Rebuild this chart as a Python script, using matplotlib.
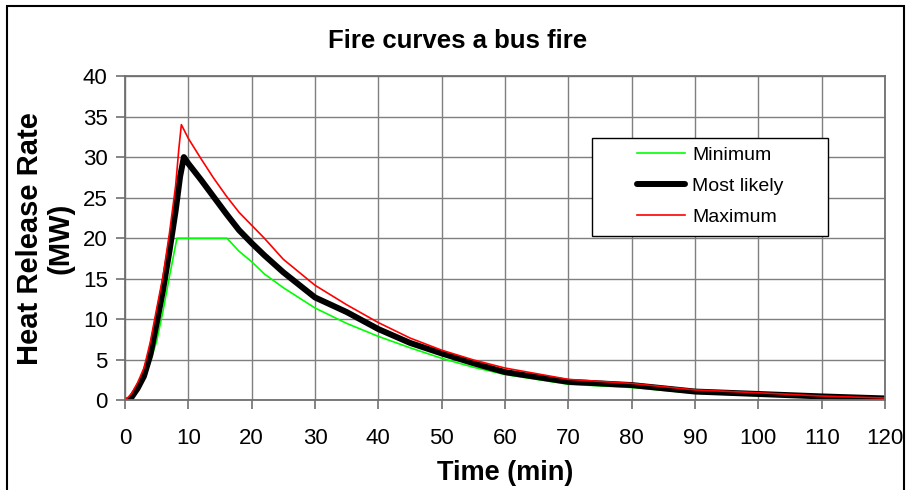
"""Fire curves for a bus fire: minimum / most likely / maximum heat release rate."""

import matplotlib

matplotlib.use("Agg")
import matplotlib.pyplot as plt
from matplotlib.patches import Rectangle

plt.rcParams["font.family"] = ["Liberation Sans", "DejaVu Sans"]

# values (time in min, HRR in MW)
t_min = [0, 1, 2, 3, 4, 5, 6, 7, 8.2, 16.1, 18, 20, 22, 25, 30, 35, 40, 45, 50,
         55, 60, 65, 70, 80, 90, 100, 110, 120]
hrr_min = [0, 0.3, 1.2, 2.8, 4.8, 7.3, 11, 15.2, 20, 20, 18.4, 17.1, 15.6, 13.9,
           11.4, 9.5, 7.9, 6.5, 5.2, 4.1, 3.2, 2.6, 2.0, 1.6, 0.9, 0.6, 0.4, 0.2]

t_likely = [0, 0.7, 2, 3, 4, 5, 6, 7, 8, 8.7, 9.3, 10, 12, 14, 16, 18, 20, 22, 25,
            30, 35, 40, 45, 50, 55, 60, 65, 70, 80, 90, 100, 110, 120]
hrr_likely = [0, 0, 1.5, 3.0, 5.6, 9.5, 13.6, 18.3, 23.4, 27.6, 30, 29.2, 27.2,
              25.1, 23.0, 21.0, 19.4, 17.9, 15.8, 12.7, 10.9, 8.8, 7.1, 5.8, 4.6,
              3.5, 2.9, 2.3, 1.9, 1.1, 0.8, 0.5, 0.25]

t_max = [0, 1, 2, 3, 4, 5, 6, 7, 8, 8.5, 8.9, 10, 12, 14, 16, 18, 20, 22, 25, 30,
         35, 40, 45, 50, 55, 60, 65, 70, 80, 90, 100, 110, 120]
hrr_max = [0, 0.8, 2.2, 4.0, 7.2, 11.3, 15.3, 20.5, 26.5, 31, 34, 32.3, 29.8,
           27.4, 25.2, 23.2, 21.6, 20.0, 17.4, 14.2, 11.8, 9.6, 7.7, 6.2, 5.0,
           4.0, 3.3, 2.6, 2.1, 1.3, 0.95, 0.55, 0.3]

x_ticks = list(range(0, 121, 10))
y_ticks = list(range(0, 41, 5))

fig = plt.figure(figsize=(9.09, 4.9), dpi=100)
ax = fig.add_axes([0.1375, 0.1827, 0.8361, 0.6623])

ax.plot(t_min, hrr_min, color="#00ff00", lw=1.2, label="Minimum")
ax.plot(t_likely, hrr_likely, color="#000000", lw=4.3, label="Most likely",
        solid_capstyle="round")
ax.plot(t_max, hrr_max, color="#ff0000", lw=1.2, label="Maximum")

ax.set_xlim(0, 120)
ax.set_ylim(0, 40)
ax.set_xticks(x_ticks)
ax.set_yticks(y_ticks)
ax.grid(True, color="#7f7f7f", lw=1.0)
ax.set_axisbelow(True)
for s in ax.spines.values():
    s.set_color("#6f6f6f")
    s.set_linewidth(1.3)
ax.tick_params(axis="both", direction="out", length=6.5, width=1.2,
               color="#6f6f6f", labelsize=16)
ax.tick_params(axis="x", pad=13)
ax.tick_params(axis="y", pad=6)

ax.set_title("Fire curves a bus fire", fontsize=18.5, fontweight="bold",
             x=0.437, pad=20)
ax.set_xlabel("Time (min)", fontsize=19.5, fontweight="bold", labelpad=8)
ax.set_ylabel("Heat Release Rate\n(MW)", fontsize=21, fontweight="bold",
              linespacing=1.15)
ax.yaxis.set_label_coords(-0.066, 0.5)

leg = ax.legend(loc="upper left", bbox_to_anchor=(0.6555, 0.825), frameon=False,
                fontsize=14, handlelength=2.5, handletextpad=0.35,
                labelspacing=0.68, borderpad=0.2)
ax.add_patch(Rectangle((0.6145, 0.507), 0.3105, 0.302, transform=ax.transAxes,
                       fill=True, facecolor="white", edgecolor="black", lw=1.0,
                       zorder=4))
leg.set_zorder(5)

# outer chart border, open at the bottom
fig.patches.append(Rectangle((0.0077, -0.1), 0.9868, 1.0878,
                             transform=fig.transFigure, fill=False,
                             edgecolor="black", lw=1.5))

fig.savefig("out.png", dpi=100, facecolor="white")
